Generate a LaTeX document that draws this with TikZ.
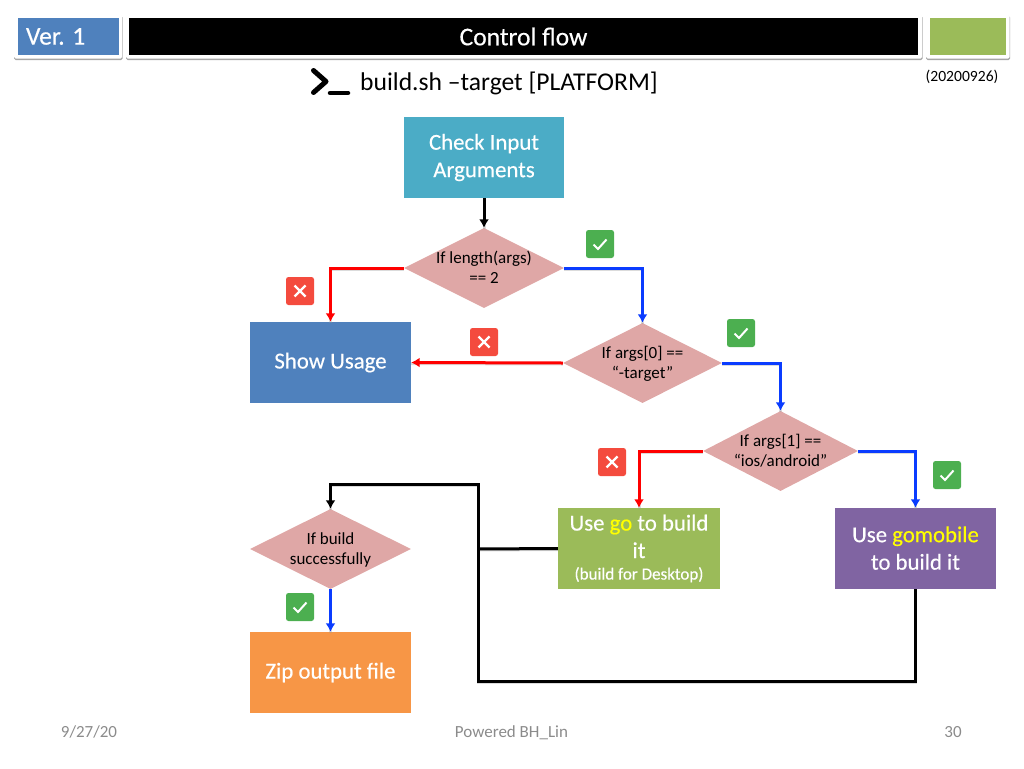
\documentclass[tikz,border=0pt]{standalone}
\usepackage{fontspec}
\setmainfont{Carlito}
\newfontfamily\heavyfont{Carlito}[FakeBold=0.35]
\usetikzlibrary{shapes.geometric,arrows.meta}
\definecolor{cyanbox}{HTML}{4BACC6}
\definecolor{bluebox}{HTML}{4F81BD}
\definecolor{greenbox}{HTML}{9BBB59}
\definecolor{purplebox}{HTML}{8064A2}
\definecolor{orangebox}{HTML}{F79646}
\definecolor{rosebox}{HTML}{DFA7A6}
\definecolor{okgreen}{HTML}{4CAF50}
\definecolor{nored}{HTML}{F44B3E}
\definecolor{linkblue}{HTML}{0A3CFF}
\definecolor{linkred}{HTML}{FF0000}
\definecolor{footgray}{HTML}{8B8B8B}
\definecolor{goyellow}{HTML}{FFFF00}
\newcommand{\fs}[2]{\fontsize{#1pt}{#2pt}\selectfont}
\newcommand{\dtext}[2]{\raisebox{-5.5pt}[0pt][0pt]{\makebox[0pt][c]{\smash{\begin{tabular}[c]{@{}c@{}}#1\\[-0.4pt]#2\end{tabular}}}}}
\tikzset{
  procbox/.style={rectangle,minimum width=161pt,minimum height=81pt,inner sep=0pt,text=white,align=center,font=\heavyfont\fs{22.8}{27.5}},
  decide/.style={diamond,fill=rosebox,minimum width=159pt,minimum height=80pt,inner sep=0pt,aspect=2,text=black,font=\fs{17}{20.5}},
  frameshadow/.style={fill=black!35,rounded corners=1.5pt},
  framecard/.style={fill=white,rounded corners=1.5pt},
  bar/.style={rectangle,inner sep=0pt,minimum height=37pt},
  badge/.style={rectangle,rounded corners=2.5pt,minimum width=28pt,minimum height=28pt,inner sep=0pt},
  flow/.style={line width=3pt,-{Latex[length=8.5pt,width=10pt]},
    preaction={draw=black!40,line width=3pt,opacity=.35,transform canvas={yshift=-1pt},-}},
  plain/.style={line width=3pt,
    preaction={draw=black!40,line width=3pt,opacity=.35,transform canvas={yshift=-1pt}}},
  footer/.style={text=footgray,font=\fs{17}{20},inner sep=0pt,anchor=base},
}
\newcommand{\tickmark}[1]{\draw[white,line width=2pt] ([shift={(-6.5,0.5)}]#1.center) -- ([shift={(-2,5)}]#1.center) -- ([shift={(6.5,-4.5)}]#1.center);}
\newcommand{\crossmark}[1]{\draw[white,line width=2.2pt] ([shift={(-5.5,-5.5)}]#1.center) -- ([shift={(5.5,5.5)}]#1.center) ([shift={(-5.5,5.5)}]#1.center) -- ([shift={(5.5,-5.5)}]#1.center);}
\begin{document}
\begin{tikzpicture}[x=1pt,y=-1pt]
\useasboundingbox (0,0) rectangle (1024,768);
% header cards
\fill[frameshadow] (14,16) rectangle (122.5,60);
\fill[framecard] (14,15) rectangle (122,58.5);
\fill[frameshadow] (126,16) rectangle (922.5,60);
\fill[framecard] (126,15) rectangle (922,58.5);
\fill[frameshadow] (926,16) rectangle (1010,60);
\fill[framecard] (926,15) rectangle (1009.5,58.5);
\node[bar,fill=bluebox,minimum width=101pt,text=white,font=\heavyfont\fs{25.5}{28}] (ver) at (68.5,36.5) {\makebox[101pt][l]{\hspace*{8pt}Ver. 1}};
\node[bar,fill=black,minimum width=789pt,text=white,font=\heavyfont\fs{25.6}{28}] (title) at (523.5,36.5) {Control flow};
\node[bar,fill=greenbox,minimum width=76pt] (tag) at (968,36.5) {};
% command line
\draw[black,line width=5pt,line cap=round,line join=round] (313.5,70.5) -- (326,81.5) -- (313.5,92.5);
\draw[black,line width=4.5pt,line cap=round] (330,93) -- (348,93);
\node[font=\fs{25.6}{28},inner sep=0pt] (cmd) at (509,83.5) {build.sh –target [PLATFORM]};
\node[font=\fs{15.6}{18},inner sep=0pt] (date) at (962,76.5) {(20200926)};
% boxes
\node[procbox,fill=cyanbox,minimum width=160pt] (check) at (484,157.5) {\raisebox{-1pt}{Check Input}\\\raisebox{-1pt}{Arguments}};
\node[procbox,fill=bluebox] (usage) at (330.5,362.5) {\raisebox{-2pt}{Show Usage}};
\node[procbox,fill=greenbox,minimum width=162pt] (gobox) at (639,548.5) {\raisebox{-3pt}{Use \textcolor{goyellow}{go} to build}\\\raisebox{-3pt}{it}\\[-3pt]{\fs{17}{20}(build for Desktop)}};
\node[procbox,fill=purplebox] (mobile) at (915.5,548.5) {\raisebox{1pt}{Use \textcolor{goyellow}{gomobile}}\\\raisebox{1pt}{to build it}};
\node[procbox,fill=orangebox] (zip) at (330.5,672.5) {\raisebox{-3pt}{Zip output file}};
% decisions
\node[decide,minimum width=160pt] (d1) at (484,268) {\dtext{If length(args)}{== 2}};
\node[decide] (d2) at (642.5,363) {\dtext{If args[0] ==}{“-target”}};
\node[decide,minimum width=155pt] (d3) at (780.5,451) {\dtext{If args[1] ==}{“ios/android”}};
\node[decide,minimum width=161pt] (d4) at (330.5,549) {\dtext{If build}{successfully}};
% junctions
\coordinate (busmid) at (478,549);
\coordinate (busbot) at (478,681);
\coordinate (bustop) at (478,484);
% connectors
\draw[flow,black] (check.south) -- (d1.north);
\draw[flow,linkred] (d1.west) -| (usage.north);
\draw[flow,linkblue] (d1.east) -| (d2.north);
\draw[flow,linkred] (d2.west) -- (usage.east);
\draw[flow,linkblue] (d2.east) -| (d3.north);
\draw[flow,linkred] (d3.west) -| (gobox.north);
\draw[flow,linkblue] (d3.east) -| (mobile.north);
\draw[plain,black] (gobox.west) -- (busmid);
\draw[flow,black,line join=miter] (mobile.south) |- (busbot) -- (bustop) -| (d4.north);
\draw[flow,linkblue] (d4.south) -- (zip.north);
% badges
\node[badge,fill=okgreen] (ok1) at (600,244) {};
\node[badge,fill=okgreen] (ok2) at (741,333) {};
\node[badge,fill=okgreen] (ok3) at (947,475) {};
\node[badge,fill=okgreen] (ok4) at (300,607) {};
\node[badge,fill=nored] (no1) at (300,291) {};
\node[badge,fill=nored] (no2) at (484,342) {};
\node[badge,fill=nored] (no3) at (612,462) {};
\tickmark{ok1}\tickmark{ok2}\tickmark{ok3}\tickmark{ok4}
\crossmark{no1}\crossmark{no2}\crossmark{no3}
% footer
\node[footer] (fdate) at (89,737.5) {9/27/20};
\node[footer] (fmid) at (511.5,737.5) {Powered BH\_Lin};
\node[footer] (fnum) at (953,737.5) {30};
\end{tikzpicture}
\end{document}
